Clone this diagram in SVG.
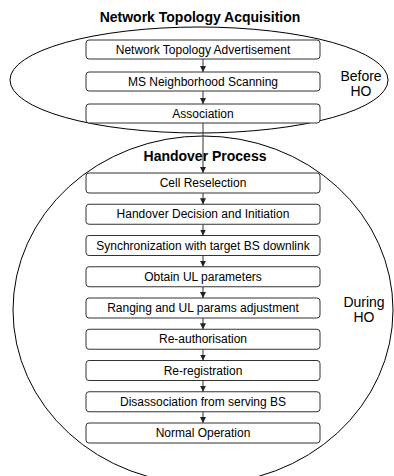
<svg xmlns="http://www.w3.org/2000/svg" width="394" height="476" viewBox="0 0 394 476">
<style>
.bg{fill:#fff}
.ell{fill:none;stroke:#000;stroke-width:1}
.box{fill:#fff;stroke:#333;stroke-width:1}
.lbl{font-family:"Liberation Sans",Arial,sans-serif;font-size:12px;fill:#000;text-anchor:middle}
.title{font-family:"Liberation Sans",Arial,sans-serif;font-size:14px;font-weight:bold;fill:#000;text-anchor:middle}
.side{font-family:"Liberation Sans",Arial,sans-serif;font-size:14px;fill:#000;text-anchor:middle}
.con{stroke:#333;stroke-width:1;fill:none;marker-end:url(#ah)}
</style>
<defs>
<marker id="ah" viewBox="0 0 10 10" refX="10" refY="5" markerWidth="6" markerHeight="6" markerUnits="userSpaceOnUse" orient="auto">
<path d="M0,0 L10,5 L0,10 z" fill="#222"/>
</marker>
</defs>
<rect class="bg" x="0" y="0" width="394" height="476"/>
<g id="before-region">
<ellipse class="ell" cx="199" cy="80" rx="189" ry="53"/>
<text class="title" x="200" y="22">Network Topology Acquisition</text>
<text class="side" x="361" y="81">Before</text>
<text class="side" x="361" y="96">HO</text>
</g>
<g id="during-region">
<ellipse class="ell" cx="203" cy="310" rx="190" ry="174"/>
<text class="title" x="205" y="161">Handover Process</text>
<text class="side" x="364" y="307">During</text>
<text class="side" x="364" y="322">HO</text>
</g>
<g id="connectors">
<line class="con" x1="203" y1="59" x2="203" y2="72"/>
<line class="con" x1="203" y1="91" x2="203" y2="104"/>
<line class="con" x1="203" y1="123" x2="203" y2="173"/>
<line class="con" x1="203" y1="193" x2="203" y2="204.25"/>
<line class="con" x1="203" y1="224.25" x2="203" y2="235.5"/>
<line class="con" x1="203" y1="255.5" x2="203" y2="266.75"/>
<line class="con" x1="203" y1="286.75" x2="203" y2="298"/>
<line class="con" x1="203" y1="318" x2="203" y2="329.25"/>
<line class="con" x1="203" y1="349.25" x2="203" y2="360.5"/>
<line class="con" x1="203" y1="380.5" x2="203" y2="391.75"/>
<line class="con" x1="203" y1="411.75" x2="203" y2="423"/>
</g>
<g id="n1"><rect class="box" x="86" y="40" width="234" height="19" rx="3"/><text class="lbl" x="203" y="53.5">Network Topology Advertisement</text></g>
<g id="n2"><rect class="box" x="86" y="72" width="234" height="19" rx="3"/><text class="lbl" x="203" y="85.5">MS Neighborhood Scanning</text></g>
<g id="n3"><rect class="box" x="86" y="104" width="234" height="19" rx="3"/><text class="lbl" x="203" y="117.5">Association</text></g>
<g id="n4"><rect class="box" x="86" y="173" width="234" height="20" rx="3"/><text class="lbl" x="203" y="187.2">Cell Reselection</text></g>
<g id="n5"><rect class="box" x="86" y="204.25" width="234" height="20" rx="3"/><text class="lbl" x="203" y="218.45">Handover Decision and Initiation</text></g>
<g id="n6"><rect class="box" x="86" y="235.5" width="234" height="20" rx="3"/><text class="lbl" x="203" y="249.7">Synchronization with target BS downlink</text></g>
<g id="n7"><rect class="box" x="86" y="266.75" width="234" height="20" rx="3"/><text class="lbl" x="203" y="280.95">Obtain UL parameters</text></g>
<g id="n8"><rect class="box" x="86" y="298" width="234" height="20" rx="3"/><text class="lbl" x="203" y="312.2">Ranging and UL params adjustment</text></g>
<g id="n9"><rect class="box" x="86" y="329.25" width="234" height="20" rx="3"/><text class="lbl" x="203" y="343.45">Re-authorisation</text></g>
<g id="n10"><rect class="box" x="86" y="360.5" width="234" height="20" rx="3"/><text class="lbl" x="203" y="374.7">Re-registration</text></g>
<g id="n11"><rect class="box" x="86" y="391.75" width="234" height="20" rx="3"/><text class="lbl" x="203" y="405.95">Disassociation from serving BS</text></g>
<g id="n12"><rect class="box" x="86" y="423" width="234" height="20" rx="3"/><text class="lbl" x="203" y="437.2">Normal Operation</text></g>
</svg>
